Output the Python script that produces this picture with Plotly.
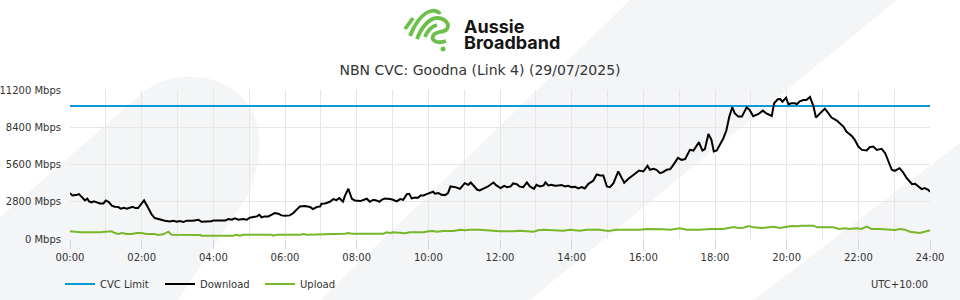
import plotly.graph_objects as go

# ---------------- data ----------------
dl_min = [0, 4, 12, 15, 20, 25, 29, 32, 36, 40, 45, 50, 56, 60, 65, 70, 75, 81, 85, 90,
          95, 100, 105, 109, 114, 117, 124, 131, 137, 142, 151, 159, 167, 173, 179, 184, 190, 195, 206, 215,
          220, 229, 237, 240, 248, 254, 260, 265, 271, 276, 282, 290, 296, 301, 307, 313, 317, 321, 326, 332,
          338, 343, 349, 354, 360, 368, 374, 380, 385, 393, 402, 407, 413, 419, 421, 427, 435, 441, 446, 451,
          457, 460, 466, 472, 477, 486, 491, 497, 502, 508, 513, 518, 522, 527, 536, 541, 547, 553, 558, 564,
          568, 572, 578, 583, 587, 592, 597, 603, 608, 611, 617, 622, 628, 633, 637, 645, 653, 661, 667, 671,
          676, 682, 686, 695, 700, 709, 714, 721, 727, 732, 738, 742, 748, 753, 759, 765, 770, 777, 781, 787,
          793, 796, 801, 806, 812, 818, 823, 829, 834, 840, 846, 851, 857, 862, 868, 876, 882, 888, 893, 899,
          904, 910, 918, 924, 928, 935, 941, 946, 953, 960, 967, 971, 977, 982, 988, 993, 999, 1005, 1010, 1018,
          1024, 1030, 1038, 1044, 1053, 1059, 1063, 1069, 1074, 1078, 1083, 1088, 1094, 1099, 1104, 1109, 1113, 1119, 1125, 1133,
          1138, 1144, 1153, 1160, 1166, 1175, 1179, 1185, 1189, 1193, 1199, 1203, 1208, 1214, 1217, 1222, 1228, 1233, 1239, 1245,
          1249, 1256, 1264, 1270, 1275, 1284, 1289, 1295, 1300, 1309, 1314, 1320, 1326, 1334, 1339, 1345, 1351, 1359, 1365, 1370,
          1376, 1381, 1389, 1394, 1401, 1406, 1410, 1415, 1420, 1426, 1431, 1437, 1440]
dl_mbps = [3450, 3275, 3325, 3375, 3150, 2900, 3025, 2825, 2750, 2825, 2750, 2675, 2675, 2900, 2775, 2500, 2425, 2400, 2275, 2350,
           2275, 2325, 2425, 2325, 2325, 2500, 2900, 2325, 1825, 1575, 1450, 1375, 1325, 1375, 1300, 1350, 1275, 1375, 1375, 1450,
           1300, 1300, 1325, 1400, 1400, 1450, 1400, 1500, 1450, 1550, 1450, 1500, 1450, 1600, 1650, 1700, 1825, 1625, 1700, 1700,
           1825, 1950, 1900, 1775, 1750, 1775, 1950, 2250, 2450, 2475, 2400, 2250, 2400, 2450, 2650, 2675, 2800, 3000, 2925, 3075,
           2800, 3200, 3775, 3025, 2900, 2850, 2950, 3025, 2800, 2950, 2900, 2800, 2950, 3050, 3000, 2950, 2825, 3000, 2950, 3375,
           3400, 3050, 3125, 3100, 3275, 3275, 3375, 3450, 3550, 3400, 3450, 3325, 3300, 3450, 3950, 3900, 3775, 4200, 4075, 4250,
           4000, 3700, 3650, 3875, 3950, 4250, 4025, 3825, 4000, 3900, 3950, 4175, 4125, 3950, 3900, 4250, 3950, 3775, 4075, 3950,
           4025, 4250, 4025, 4075, 4000, 4025, 4050, 3950, 4000, 3900, 3925, 3800, 3900, 3800, 4150, 4375, 4850, 4775, 4775, 3950,
           3900, 4200, 5075, 4575, 4225, 4525, 4700, 4900, 5150, 5075, 5500, 5200, 5275, 5200, 4950, 5025, 5200, 5250, 5550, 6100,
           5950, 6000, 6700, 6650, 7275, 6650, 6750, 7900, 7450, 6575, 6650, 7075, 7575, 8150, 9200, 9900, 9450, 9200, 9200, 9900,
           9700, 9225, 9400, 9650, 9450, 9250, 10200, 10500, 10525, 10325, 10625, 10125, 10200, 10200, 10125, 10350, 10450, 10450, 10675, 9950,
           9125, 9450, 9800, 9450, 9125, 8900, 8700, 8450, 8075, 7750, 7450, 6950, 6700, 6650, 6900, 6950, 6700, 6775, 6450, 5825,
           5200, 5125, 5325, 5075, 4575, 4325, 4125, 4150, 3950, 3750, 3825, 3700, 3550]

ul_min = [0, 17, 50, 67, 70, 75, 81, 87, 95, 103, 112, 120, 128, 142, 148, 156, 165, 170, 184, 201,
          218, 220, 234, 243, 251, 273, 279, 285, 290, 301, 338, 340, 346, 385, 391, 396, 410, 416, 419, 433,
          441, 460, 466, 472, 525, 530, 536, 541, 555, 561, 569, 592, 600, 608, 614, 625, 642, 653, 661, 670,
          686, 698, 709, 720, 742, 753, 776, 784, 793, 815, 826, 837, 854, 865, 887, 901, 915, 954, 966, 993,
          1005, 1021, 1033, 1055, 1072, 1094, 1111, 1119, 1128, 1136, 1144, 1158, 1178, 1189, 1208, 1217, 1225, 1245, 1251, 1278,
          1287, 1298, 1306, 1317, 1325, 1334, 1342, 1356, 1373, 1381, 1390, 1398, 1406, 1418, 1423, 1429, 1440]
ul_mbps = [575, 500, 500, 525, 575, 450, 375, 450, 375, 375, 450, 450, 375, 375, 300, 350, 550, 325, 325, 325,
           300, 250, 250, 300, 250, 250, 325, 250, 325, 325, 325, 250, 325, 325, 375, 325, 325, 375, 325, 325,
           375, 400, 450, 400, 400, 500, 450, 500, 475, 425, 500, 500, 575, 600, 550, 600, 600, 700, 650, 700,
           700, 650, 625, 575, 575, 625, 550, 650, 700, 650, 625, 700, 625, 700, 700, 600, 700, 700, 750, 725,
           700, 800, 700, 700, 750, 750, 900, 825, 850, 975, 875, 825, 925, 825, 975, 950, 1000, 1000, 875, 875,
           750, 800, 750, 800, 750, 925, 750, 750, 675, 675, 750, 700, 550, 500, 450, 525, 650]

cvc_limit_mbps = 10000
day_span_min = [0, 1440]

hour_ticks = [0, 120, 240, 360, 480, 600, 720, 840, 960, 1080, 1200, 1320, 1440]
hour_labels = ["00:00", "02:00", "04:00", "06:00", "08:00", "10:00", "12:00",
               "14:00", "16:00", "18:00", "20:00", "22:00", "24:00"]
y_ticks = [0, 2800, 5600, 8400, 11200]
y_labels = ["0 Mbps", "2800 Mbps", "5600 Mbps", "8400 Mbps", "11200 Mbps"]

title_text = "NBN CVC: Goodna (Link 4) (29/07/2025)"
tz_text = "UTC+10:00"

# ---------------- layout helpers (pixel -> paper) ----------------
FIG_W, FIG_H = 960, 300
ML, MR, MT, MB = 70, 30, 90, 61
PW = FIG_W - ML - MR
PH = FIG_H - MT - MB
BOTTOM = MT + PH


def pxx(x):
    return (x - ML) / PW


def pxy(y):
    return (BOTTOM - y) / PH


def to_path(segments):
    parts = []
    for cmd, pts in segments:
        coords = " ".join(f"{pxx(x):.5f},{pxy(y):.5f}" for x, y in pts)
        parts.append(cmd + coords)
    return " ".join(parts)


BG = "#f4f5f7"
GREEN_LOGO = "#6cc04a"
TXT = "#333333"
FONT = "DejaVu Sans"

shapes = []
# decorative background bands
bg_paths = [
    [("M", [(0, 300)]), ("L", [(0, 217)]), ("L", [(140, 95)]),
     ("C", [(165, 72), (215, 68), (245, 100)]),
     ("C", [(265, 125), (262, 160), (248, 195)]),
     ("L", [(178, 300)]), ("Z", [])],
    [("M", [(630, 0)]), ("L", [(897, 0)]), ("L", [(530, 300)]), ("L", [(320, 300)]), ("Z", [])],
    [("M", [(753, 300)]), ("L", [(960, 143)]), ("L", [(960, 300)]), ("Z", [])],
]
for p in bg_paths:
    shapes.append(dict(type="path", xref="paper", yref="paper", layer="below",
                       path=to_path(p), fillcolor=BG, line=dict(width=0)))

# logo strokes
logo_strokes = [
    [("M", [(405, 29)]), ("L", [(413, 18)])],
    [("M", [(410, 36)]), ("C", [(414, 25), (422, 13), (431, 11)]), ("C", [(435, 10), (439, 12), (440, 14)])],
    [("M", [(417, 39)]), ("C", [(421, 28), (429, 18), (437, 18)]),
     ("C", [(445, 18), (450, 24), (447, 29)]),
     ("C", [(444, 33), (435, 31), (433, 36)]),
     ("C", [(431, 41), (438, 44), (446, 41)])],
    [("M", [(425, 37)]), ("C", [(427, 31), (432, 26), (437, 25)])],
]
for p in logo_strokes:
    shapes.append(dict(type="path", xref="paper", yref="paper", layer="above",
                       path=to_path(p), line=dict(color=GREEN_LOGO, width=3.8)))
shapes.append(dict(type="circle", xref="paper", yref="paper", layer="above",
                   x0=pxx(440.5), x1=pxx(445.5), y0=pxy(51.5), y1=pxy(46.5),
                   fillcolor=GREEN_LOGO, line=dict(width=0)))

annotations = [
    dict(text="<b>Aussie</b>", x=pxx(462), y=pxy(26.5), xref="paper", yref="paper",
         xanchor="left", yanchor="middle", showarrow=False,
         font=dict(family="Inter", size=18, color="#151515")),
    dict(text="<b>Broadband</b>", x=pxx(462), y=pxy(43), xref="paper", yref="paper",
         xanchor="left", yanchor="middle", showarrow=False,
         font=dict(family="Inter", size=18, color="#151515")),
    dict(text=tz_text, x=pxx(930), y=pxy(284), xref="paper", yref="paper",
         xanchor="right", yanchor="middle", showarrow=False,
         font=dict(family=FONT, size=10, color=TXT)),
]

fig = go.Figure()
fig.add_trace(go.Scatter(x=day_span_min, y=[cvc_limit_mbps, cvc_limit_mbps], mode="lines",
                         name="CVC Limit", line=dict(color="#0a9ad9", width=2)))
fig.add_trace(go.Scatter(x=dl_min, y=dl_mbps, mode="lines", name="Download",
                         line=dict(color="#000000", width=2)))
fig.add_trace(go.Scatter(x=ul_min, y=ul_mbps, mode="lines", name="Upload",
                         line=dict(color="#76b82a", width=2)))

fig.update_layout(
    width=FIG_W, height=FIG_H, autosize=False,
    margin=dict(l=ML, r=MR, t=MT, b=MB, autoexpand=False),
    paper_bgcolor="white", plot_bgcolor="rgba(0,0,0,0)",
    font=dict(family=FONT, size=10, color=TXT),
    title=dict(text=title_text, x=0.5, xanchor="center", xref="container",
               y=1 - 70 / FIG_H, yanchor="middle", yref="container",
               font=dict(family=FONT, size=14, color=TXT)),
    showlegend=True,
    legend=dict(orientation="h", x=pxx(60), xanchor="left", y=pxy(284), yanchor="middle",
                font=dict(family=FONT, size=10, color=TXT), bgcolor="rgba(0,0,0,0)",
                entrywidth=55, entrywidthmode="pixels", traceorder="normal"),
    shapes=shapes, annotations=annotations,
    hovermode=False,
)
fig.update_xaxes(range=[0, 1440], tickmode="array", tickvals=hour_ticks, ticktext=hour_labels,
                 showgrid=True, gridcolor="#e6e6e6", gridwidth=1,
                 minor=dict(tickmode="linear", tick0=0, dtick=60, showgrid=True,
                            gridcolor="#e6e6e6", gridwidth=1, ticks=""),
                 ticks="outside", ticklen=9, tickcolor="#ccd6eb", tickwidth=1,
                 tickfont=dict(family=FONT, size=10, color=TXT),
                 zeroline=False, showline=False, fixedrange=True, automargin=False)
fig.update_yaxes(range=[0, 11200], tickmode="array", tickvals=y_ticks, ticktext=y_labels,
                 showgrid=True, gridcolor="#e6e6e6", gridwidth=1,
                 ticks="", ticklabelstandoff=8,
                 tickfont=dict(family=FONT, size=10, color=TXT),
                 zeroline=False, showline=False, fixedrange=True, automargin=False)

fig.write_html("out.html", config=dict(displayModeBar=False, staticPlot=True))
